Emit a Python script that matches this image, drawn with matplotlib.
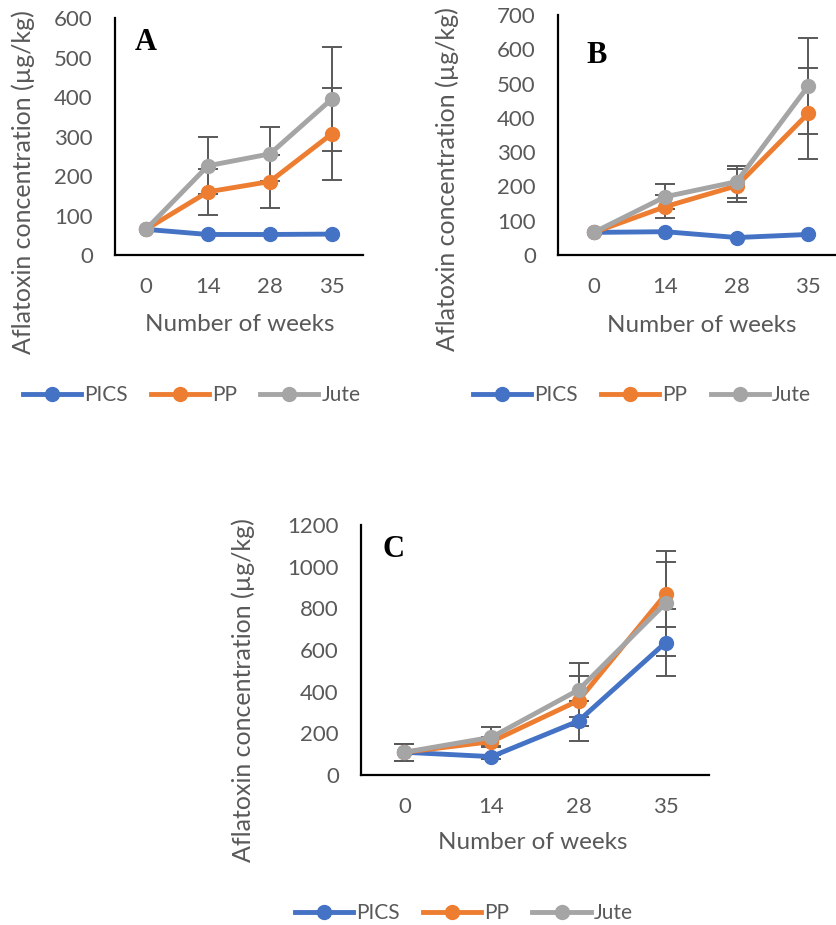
# aflatoxin concentration in PICS, PP and jute bags over storage time

import numpy as np
from matplotlib import pyplot as plt

weeks = ["0", "14", "28", "35"]
series = ["PICS", "PP", "Jute"]
colors = ["#4472C4", "#ED7D31", "#A5A5A5"]

# panel A
a_pics = [65, 52, 52, 53]
a_pp = [65, 160, 186, 307]
a_jute = [65, 226, 256, 395]
a_pics_err = [0, 0, 0, 0]
a_pp_err = [0, 59, 68, 117]
a_jute_err = [0, 72, 69, 131]

# panel B
b_pics = [66, 68, 51, 60]
b_pp = [66, 141, 202, 413]
b_jute = [66, 170, 214, 493]
b_pics_err = [0, 0, 0, 0]
b_pp_err = [0, 34, 48, 133]
b_jute_err = [0, 37, 47, 139]

# panel C
c_pics = [109, 88, 259, 635]
c_pp = [109, 160, 357, 867]
c_jute = [109, 181, 408, 824]
c_pics_err = [40, 10, 94, 160]
c_pp_err = [40, 20, 120, 155]
c_jute_err = [40, 48, 128, 251]

plt.rcParams['font.family'] = ['Lato', 'DejaVu Sans']
gray = "#595959"


def draw_panel(fig, rect, values, errors, ymax, ystep, letter, letter_pos,
               xlab_pos, ylab_pos, legend_pos):
    ax = fig.add_axes(rect)
    x = np.arange(len(weeks)) + 0.5
    handles = []
    for vals, errs, color, name in zip(values, errors, colors, series):
        vals = np.array(vals)
        errs = np.array(errs)
        # bars that are hidden under the markers are left out
        keep = errs > 0
        if keep.any():
            ax.errorbar(x[keep], vals[keep], yerr=errs[keep], fmt="none",
                        ecolor=gray, elinewidth=1.4, capsize=7, capthick=1.4,
                        zorder=2)
        h, = ax.plot(x, vals, color=color, linewidth=3.5, marker="o",
                     markersize=10, label=name, zorder=3)
        handles.append(h)
    ax.set_xlim(0, len(weeks))
    ax.set_ylim(0, ymax)
    ax.set_xticks(x)
    ax.set_xticklabels(weeks)
    ax.set_yticks(np.arange(0, ymax + 1, ystep))
    ax.tick_params(length=0, labelsize=16, colors=gray, pad=16)
    for s in ["top", "right"]:
        ax.spines[s].set_visible(False)
    for s in ["left", "bottom"]:
        ax.spines[s].set_linewidth(1.6)
        ax.spines[s].set_color("black")
    ax.set_xlabel("Number of weeks", fontsize=17.5, color=gray, va="center")
    ax.set_ylabel("Aflatoxin concentration (µg/kg)", fontsize=18, color=gray,
                  va="center", ha="center")
    ax.xaxis.set_label_coords(*xlab_pos)
    ax.yaxis.set_label_coords(*ylab_pos)
    ax.text(letter_pos[0], letter_pos[1], letter, transform=ax.transAxes,
            fontsize=22, fontweight="bold", family="Liberation Serif", va="center")
    fig.legend(handles=handles, loc="center", bbox_to_anchor=legend_pos, ncol=3,
               frameon=False, fontsize=15, handlelength=2.8, columnspacing=1.1,
               handletextpad=0.15, labelcolor=gray)
    return ax


fig = plt.figure(figsize=(8.36, 9.25), dpi=100)

draw_panel(fig, [0.1376, 0.7243, 0.2964, 0.2562],
           [a_pics, a_pp, a_jute], [a_pics_err, a_pp_err, a_jute_err],
           600, 100, "A", (0.08, 0.895), (0.504, -0.295), (-0.371, 0.308),
           (0.229, 0.573))
draw_panel(fig, [0.6675, 0.7243, 0.3421, 0.2595],
           [b_pics, b_pp, b_jute], [b_pics_err, b_pp_err, b_jute_err],
           700, 100, "B", (0.10, 0.833), (0.503, -0.292), (-0.388, 0.317),
           (0.768, 0.573))
draw_panel(fig, [0.4318, 0.1622, 0.4163, 0.2703],
           [c_pics, c_pp, c_jute], [c_pics_err, c_pp_err, c_jute_err],
           1200, 200, "C", (0.063, 0.9), (0.494, -0.272), (-0.339, 0.34),
           (0.555, 0.013))

plt.savefig("out.png", dpi=100)
